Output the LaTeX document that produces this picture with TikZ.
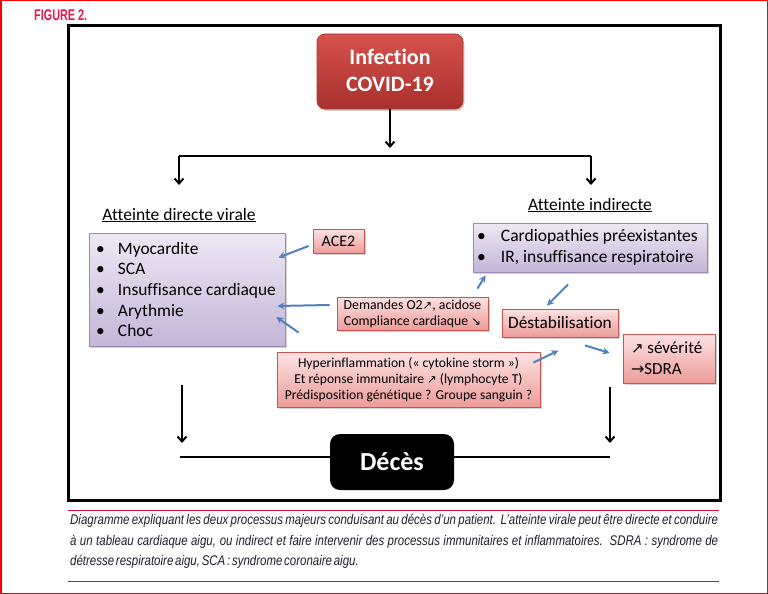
\documentclass[tikz,border=0pt]{standalone}
\usepackage{fontspec}
\setmainfont{Carlito}[Ligatures={NoCommon,NoRare}]
\newfontfamily\symf{DejaVu Sans}
\newfontfamily\capf[FakeStretch=0.82,WordSpace=0.55]{Liberation Sans}
\newfontfamily\figf[FakeStretch=0.7]{Liberation Sans}
\usetikzlibrary{arrows.meta,shadows}
\definecolor{infTop}{HTML}{D6524E}
\definecolor{infBot}{HTML}{A8302C}
\definecolor{infLine}{HTML}{B03A36}
\definecolor{pinkTop}{HTML}{FCE2E1}
\definecolor{pinkBot}{HTML}{EC9C9A}
\definecolor{pinkLine}{HTML}{C9524E}
\definecolor{purTop}{HTML}{EEE8F4}
\definecolor{purBot}{HTML}{C4B6D8}
\definecolor{purLine}{HTML}{9D88BA}
\definecolor{arrowBlue}{HTML}{4F81BD}
\definecolor{crimson}{HTML}{D0103A}
\definecolor{figRed}{HTML}{E8174B}
\definecolor{capText}{HTML}{1E1E2A}
\begin{document}
\begin{tikzpicture}[x=1pt,y=-1pt,
  box/.style={draw, line width=0.8pt, inner sep=0pt, align=flush center,
    drop shadow={opacity=0.35, shadow xshift=1.5pt, shadow yshift=-2pt}},
  redbox/.style={box, rounded corners=8pt, top color=infTop, bottom color=infBot, draw=infLine,
    text=white, font=\fontsize{22}{27}\selectfont\bfseries},
  pinkbox/.style={box, top color=pinkTop, bottom color=pinkBot, draw=pinkLine},
  purplebox/.style={box, top color=purTop, bottom color=purBot, draw=purLine},
  blackbox/.style={fill=black, rounded corners=10pt, text=white, inner sep=0pt,
    font=\fontsize{26}{30}\selectfont\bfseries},
  bluearrow/.style={draw=arrowBlue, line width=2pt, -{Stealth[length=7pt,width=7pt]}},
  blkarrow/.style={line width=2pt, -{Straight Barb[length=5pt,width=9pt]}},
  blkline/.style={line width=2pt},
  title/.style={inner sep=0pt, font=\fontsize{17.5}{20}\selectfont}
]
\useasboundingbox (0,0) rectangle (768,594);
% outer red frame
\draw[red, line width=1.5pt] (0.75,0.75) rectangle (767.25,593.25);
\node[anchor=west, inner sep=0pt, text=figRed, font=\figf\bfseries\fontsize{15.5}{16}\selectfont] (fig) at (34,15.5) {FIGURE 2.};
% black frame
\draw[line width=3pt] (68,26) rectangle (720,500);

% boxes
\node[redbox, minimum width=146pt, minimum height=75pt] (inf) at (390,71.5) {\raisebox{1.5pt}{Infection}\\\raisebox{1.5pt}{COVID-19}};

\node[title] (tdir) at (179,215) {\underline{Atteinte directe virale}};
\node[title] (tind) at (590,205) {\underline{Atteinte indirecte}};

\node[purplebox, minimum width=196pt, minimum height=113pt, text width=182pt, align=flush left,
  font=\fontsize{17.4}{20.6}\selectfont] (direct) at (187,289.5)
  {\makebox[22pt][l]{•}Myocardite\\\makebox[22pt][l]{•}SCA\\\makebox[22pt][l]{•}Insuffisance cardiaque\\\makebox[22pt][l]{•}Arythmie\\\makebox[22pt][l]{•}Choc};

\node[purplebox, minimum width=234pt, minimum height=49pt, text width=226pt, align=flush left,
  font=\fontsize{17.5}{21}\selectfont] (indirect) at (590,247.5)
  {\makebox[24pt][l]{•}Cardiopathies préexistantes\\\makebox[24pt][l]{•}IR, insuffisance respiratoire};

\node[pinkbox, minimum width=51pt, minimum height=24pt, font=\fontsize{16}{18}\selectfont] (ace) at (338.5,241) {ACE2};

\node[pinkbox, minimum width=151pt, minimum height=33pt, font=\fontsize{13.8}{16}\selectfont] (dem) at (412.5,313.5)
  {Demandes O2{\symf\fontsize{11.5}{12}\selectfont ↗}, acidose\\Compliance cardiaque {\symf\fontsize{11.5}{12}\selectfont ↘}};

\node[pinkbox, minimum width=116pt, minimum height=28pt, font=\fontsize{17.3}{18}\selectfont] (dest) at (560,323) {Déstabilisation};

\node[pinkbox, minimum width=92pt, minimum height=49pt, text width=76pt, align=flush left, font=\fontsize{17}{21}\selectfont] (sev) at (669,358.5)
  {{\symf\fontsize{15}{15}\selectfont ↗} sévérité\\{\symf\fontsize{16}{15}\selectfont →}SDRA};

\node[pinkbox, minimum width=263pt, minimum height=55pt, font=\fontsize{13.6}{16.2}\selectfont] (hyper) at (408.5,379.5)
  {Hyperinflammation («~cytokine storm~»)\\Et réponse immunitaire {\symf\fontsize{11.5}{12}\selectfont ↗} (lymphocyte T)\\Prédisposition génétique ? Groupe sanguin ?};

% black connectors
\coordinate (infend) at (390,148);
\coordinate (bl) at (179,156);
\coordinate (br) at (591,156);
\coordinate (bld) at (179,185);
\coordinate (brd) at (591,185);
\draw[blkarrow] (inf.south) -- (infend);
\draw[blkline] (bl) -- (br);
\draw[blkarrow] (bl) -- (bld);
\draw[blkarrow] (br) -- (brd);

\coordinate (la) at (182,385);
\coordinate (lb) at (182,443);
\coordinate (ra) at (610,387);
\coordinate (rb) at (610,443);
\coordinate (hl) at (180,457);
\coordinate (hr) at (610,457);
\draw[blkarrow] (la) -- (lb);
\draw[blkarrow] (ra) -- (rb);
\draw[blkline] (hl) -- (hr);
\node[blackbox, minimum width=124pt, minimum height=56pt] (deces) at (392,462) {Décès};

% blue connectors
\draw[bluearrow] ([shift={(-4,5)}]ace.west) -- ([shift={(-7,25)}]direct.north east);
\draw[bluearrow] ([shift={(-7,-8.5)}]dem.west) -- ([shift={(-8,16.5)}]direct.east);
\draw[bluearrow] ([shift={(22,-19)}]hyper.north west) -- ([shift={(-9,27.5)}]direct.east);
\draw[bluearrow] ([shift={(-11,-8)}]dem.north east) -- ([shift={(13,3)}]indirect.south west);
\draw[bluearrow] ([shift={(-22,12)}]indirect.south) -- ([shift={(-13,-3)}]dest.north);
\draw[bluearrow] ([shift={(25,8)}]dest.south) -- ([shift={(-13,-5.5)}]sev.west);
\draw[bluearrow] ([shift={(-7,11)}]hyper.north east) -- ([shift={(18,-1)}]hyper.north east);

% caption
\draw[crimson, line width=1pt] (68,510) -- (719,510);
\draw[crimson, line width=1pt] (68,581) -- (719,581);
\node[anchor=north west, text width=648pt, align=justify, inner sep=0pt, text=capText,
  font=\capf\itshape\fontsize{14}{20.5}\selectfont] (cap) at (70,514)
  {Diagramme expliquant les deux processus majeurs conduisant au décès d’un patient. L’atteinte virale peut être directe et conduire\linebreak à un tableau cardiaque aigu, ou indirect et faire intervenir des processus immunitaires et inflammatoires.\ \ SDRA~: syndrome de\linebreak détresse respiratoire aigu, SCA~: syndrome coronaire aigu.};
\end{tikzpicture}
\end{document}
